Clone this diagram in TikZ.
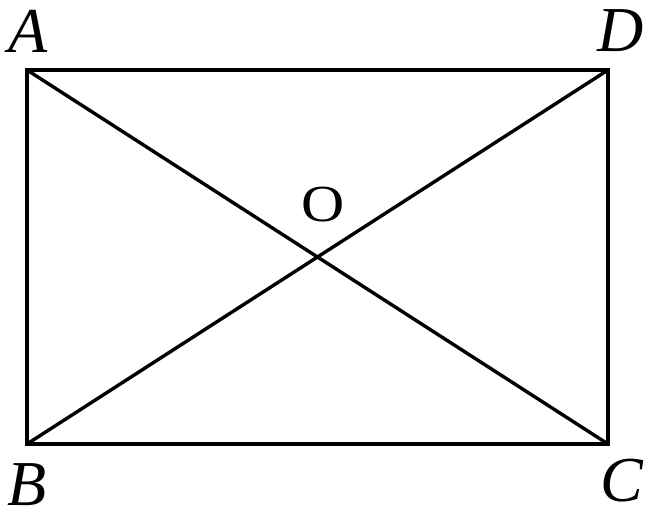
\documentclass[tikz,border=0pt]{standalone}
\usepackage{fontspec}
\setmainfont{Liberation Serif}
\usepackage{tikz}
\usetikzlibrary{positioning}

\begin{document}
\begin{tikzpicture}[x=0.25pt,y=-0.25pt,
  edge/.style={line width=0.85pt,line cap=round,line join=miter},
  vertex/.style={font=\fontsize{16}{18}\selectfont\itshape,inner sep=0pt}]
  \useasboundingbox (0,0) rectangle (652,514);

  % Corners of the rectangle
  \coordinate (A) at (27,70);
  \coordinate (D) at (608,70);
  \coordinate (B) at (27,444);
  \coordinate (C) at (608,444);

  % Rectangle and diagonals
  \draw[edge] (A) -- (D) -- (C) -- (B) -- cycle;
  \draw[edge] (A) -- (C);
  \draw[edge] (B) -- (D);

  % Labels
  \node[vertex] (lA) at (28,31) {A};
  \node[vertex] (lD) at (621,31) {D};
  \node[vertex] (lB) at (27,485) {B};
  \node[vertex] (lC) at (622,481) {C};
  \node[inner sep=0pt,font=\fontsize{13}{15}\selectfont] (lO) at (323,205) {\scalebox{1.15}[1]{O}};
\end{tikzpicture}
\end{document}
